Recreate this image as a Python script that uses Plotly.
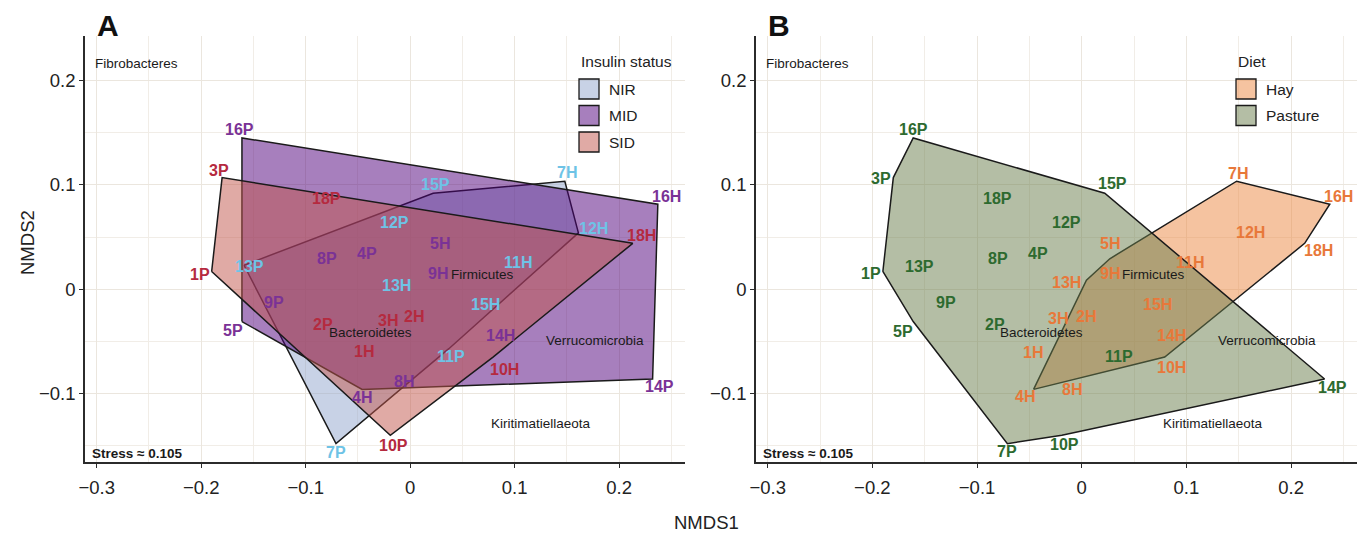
import plotly.graph_objects as go

# ---------------- data ----------------
samples = ["1P", "2P", "3P", "4P", "5P", "7P", "8P", "9P", "10P", "11P", "12P", "13P", "14P", "15P", "16P", "18P",
           "1H", "2H", "3H", "4H", "5H", "7H", "8H", "9H", "10H", "11H", "12H", "13H", "14H", "15H", "16H", "18H"]
nmds1 = [-0.190, -0.083, -0.180, -0.0415, -0.161, -0.071, -0.080, -0.130, -0.019, 0.037, -0.015, -0.159, 0.232, 0.022, -0.161, -0.080,
         -0.028, 0.004, -0.011, -0.046, 0.0268, 0.148, -0.0048, 0.0268, 0.0793, 0.1035, 0.161, 0.0045, 0.086, 0.0725, 0.237, 0.213]
nmds2 = [0.017, -0.034, 0.107, 0.034, -0.031, -0.148, 0.029, -0.013, -0.140, -0.057, 0.064, 0.023, -0.086, 0.092, 0.145, 0.087,
         -0.060, -0.0265, -0.027, -0.096, 0.0292, 0.1035, -0.083, 0.0151, -0.065, 0.0252, 0.054, 0.0086, -0.0441, -0.0145, 0.0815, 0.044]
insulin = ["SID", "SID", "SID", "MID", "MID", "NIR", "MID", "MID", "SID", "NIR", "NIR", "NIR", "MID", "NIR", "MID", "SID",
           "SID", "SID", "SID", "MID", "MID", "NIR", "MID", "MID", "SID", "NIR", "NIR", "NIR", "MID", "NIR", "MID", "SID"]
diet = ["Pasture"] * 16 + ["Hay"] * 16

insulin_levels = ["NIR", "MID", "SID"]
diet_levels = ["Hay", "Pasture"]

phyla = ["Fibrobacteres", "Firmicutes", "Bacteroidetes", "Verrucomicrobia", "Kiritimatiellaeota"]
phyla_x = [-0.262, 0.069, -0.038, 0.177, 0.125]
phyla_y = [0.216, 0.0144, -0.0415, -0.0496, -0.1288]

stress = 0.105

# ---------------- style ----------------
W, H = 1363, 535
FONT = "Liberation Sans, Arial, sans-serif"
XR = [-0.3112, 0.263]
YR = [-0.1656, 0.2427]
PLOT_TOP, PLOT_BOT = 36, 462
PANELS = {"A": (85, 685), "B": (756, 1357)}

label_col = {"NIR": "#6ec3e6", "MID": "#7a3296", "SID": "#b52a3f",
             "Hay": "#e8783a", "Pasture": "#2d6a2f"}
fill_col = {"NIR": "rgba(145,165,205,0.5)", "MID": "rgba(79,0,123,0.5)", "SID": "rgba(193,85,75,0.5)",
            "Hay": "rgba(235,135,65,0.5)", "Pasture": "rgba(105,125,75,0.5)"}

# label nudges in pixels (dx right, dy down) per panel
nudge_A = {"1P": (-12, 3), "3P": (-3, -7), "5P": (-9, 9), "7P": (0, 9), "10P": (3, 10), "11P": (2, 8),
           "13P": (5, 1), "14P": (7, 8), "15P": (2, -9), "16P": (-2, -8), "1H": (-17, 0), "3H": (-11, 3),
           "4H": (0, 8), "5H": (2, -15), "7H": (2, -9), "8H": (-1, 6), "10H": (11, 12), "12H": (15, -4),
           "13H": (-18, 5), "16H": (9, -8), "18H": (9, -8)}
nudge_B = {"1P": (-12, 2), "3P": (-12, 1), "5P": (-10, 10), "7P": (0, 8), "10P": (3, 9), "11P": (-1, 8),
           "13P": (4, 1), "14P": (8, 9), "15P": (8, -10), "16P": (0, -8), "1H": (-19, 1), "3H": (-12, 1),
           "4H": (-9, 7), "5H": (0, -15), "7H": (1, -8), "8H": (-5, 14), "10H": (7, 10), "12H": (0, 0),
           "13H": (-20, 2), "16H": (9, -8), "18H": (14, 7)}


def hull(pts):
    pts = sorted(set(pts))
    if len(pts) < 3:
        return pts

    def cross(o, a, b):
        return (a[0] - o[0]) * (b[1] - o[1]) - (a[1] - o[1]) * (b[0] - o[0])
    lower, upper = [], []
    for p in pts:
        while len(lower) >= 2 and cross(lower[-2], lower[-1], p) <= 0:
            lower.pop()
        lower.append(p)
    for p in reversed(pts):
        while len(upper) >= 2 and cross(upper[-2], upper[-1], p) <= 0:
            upper.pop()
        upper.append(p)
    return lower[:-1] + upper[:-1]


def px(xp):
    return xp / W


def py(yp):
    return 1 - yp / H


def note(xp, yp, text, size, color="#222222", xanchor="center", angle=0):
    return dict(x=px(xp), y=py(yp), xref="paper", yref="paper", text=text, showarrow=False,
                xanchor=xanchor, yanchor="middle", textangle=angle,
                font=dict(family=FONT, size=size, color=color))


fig = go.Figure()
annotations = []
shapes = []

panel_defs = [("A", "x", "y", insulin, insulin_levels, nudge_A, "Insulin status"),
              ("B", "x2", "y2", diet, diet_levels, nudge_B, "Diet")]

for name, xa, ya, groups, levels, nudges, legtitle in panel_defs:
    # hulls
    for lev in levels:
        pts = [(nmds1[i], nmds2[i]) for i in range(len(samples)) if groups[i] == lev]
        h = hull(pts)
        h = h + [h[0]]
        fig.add_trace(go.Scatter(x=[p[0] for p in h], y=[p[1] for p in h], xaxis=xa, yaxis=ya,
                                 mode="lines", fill="toself", fillcolor=fill_col[lev],
                                 line=dict(color="#1a1a1a", width=1.5), hoverinfo="skip", showlegend=False))
    # phyla labels
    for t, xv, yv in zip(phyla, phyla_x, phyla_y):
        annotations.append(dict(x=xv, y=yv, xref=xa, yref=ya, text=t, showarrow=False,
                                xanchor="center", yanchor="middle",
                                font=dict(family=FONT, size=13.5, color="#1a1a1a")))
    # sample labels
    for i, s in enumerate(samples):
        dx, dy = nudges.get(s, (0, 0))
        annotations.append(dict(x=nmds1[i], y=nmds2[i], xref=xa, yref=ya, text="<b>%s</b>" % s,
                                showarrow=False, xshift=dx, yshift=-dy, xanchor="center", yanchor="middle",
                                font=dict(family=FONT, size=16, color=label_col[groups[i]])))
    x0, x1 = PANELS[name]
    annotations.append(note(x0 + 5, 453, "<b>Stress \u2248 %.3f</b>" % stress, 13.5, "#1a1a1a", "left"))
    annotations.append(note(x0 + 23, 25, "<b>%s</b>" % name, 30, "#111111"))
    # legend
    lx = 579 if name == "A" else 1236
    annotations.append(note(lx, 61, legtitle, 15.5, xanchor="left"))
    for k, lev in enumerate(levels):
        top = 79 + k * 26.5
        shapes.append(dict(type="rect", xref="paper", yref="paper", x0=px(lx), x1=px(lx + 20),
                           y0=py(top + 20), y1=py(top), fillcolor=fill_col[lev],
                           line=dict(color="#1a1a1a", width=1.3)))
        annotations.append(note(lx + 28, top + 10, lev, 15.5, xanchor="left"))

# axis titles
annotations.append(note(707, 522, "NMDS1", 18.5))
annotations.append(note(27, 242, "NMDS2", 18.5, angle=-90))

grid = "#ebe6de"
minor = dict(dtick=0.05, tick0=0, showgrid=True, gridcolor="#f1ede7", gridwidth=0.8, ticklen=0)


def axis_common():
    return dict(tick0=0, dtick=0.1, showgrid=True, gridcolor=grid, gridwidth=1, zeroline=False,
                showline=True, linecolor="#2b2b2b", linewidth=1.6, automargin=False,
                ticks="outside", ticklen=4, tickcolor="#2b2b2b", tickwidth=1.2,
                tickfont=dict(family=FONT, size=18.5, color="#222222"), minor=minor, fixedrange=True)


def xaxis(dom, anchor):
    d = axis_common()
    d.update(domain=dom, range=XR, anchor=anchor, ticklabelstandoff=4)
    return d


def yaxis(anchor):
    d = axis_common()
    d.update(domain=[py(PLOT_BOT), py(PLOT_TOP)], range=YR, anchor=anchor)
    return d


fig.update_layout(
    width=W, height=H, margin=dict(l=0, r=0, t=0, b=0, pad=0),
    paper_bgcolor="white", plot_bgcolor="white", showlegend=False,
    xaxis=xaxis([px(PANELS["A"][0]), px(PANELS["A"][1])], "y"),
    yaxis=yaxis("x"),
    xaxis2=xaxis([px(PANELS["B"][0]), px(PANELS["B"][1])], "y2"),
    yaxis2=yaxis("x2"),
    annotations=annotations, shapes=shapes,
)

fig.write_html("out.html", config={"displayModeBar": False},
               post_script="document.body.style.margin='0px';document.body.style.overflow='hidden';")
